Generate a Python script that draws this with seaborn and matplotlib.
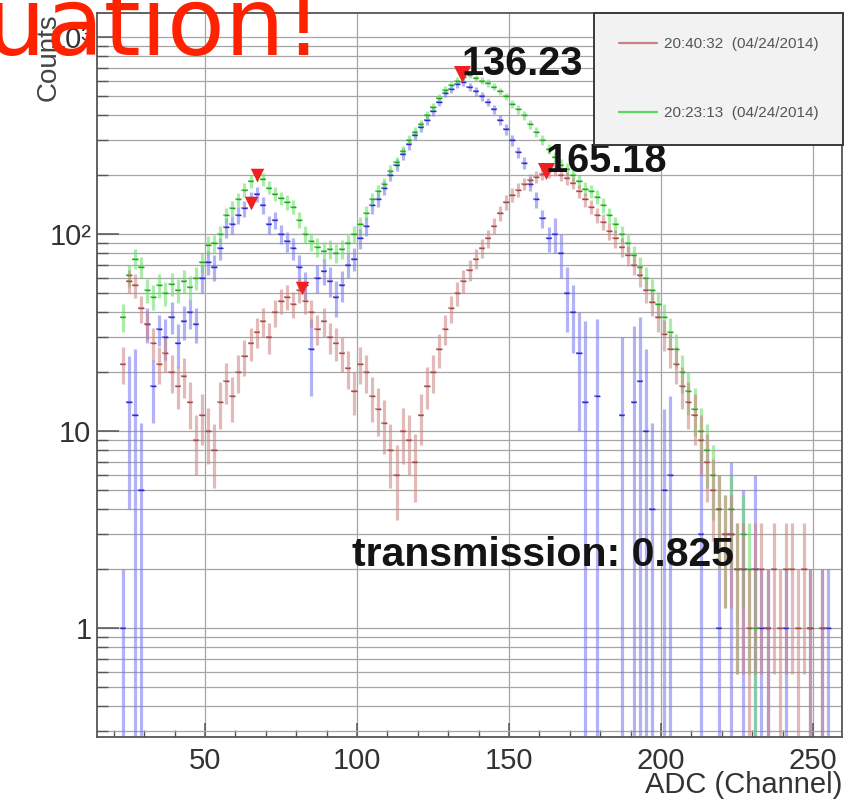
import numpy as np
import pandas as pd
import matplotlib
matplotlib.use("Agg")
import matplotlib.pyplot as plt
from matplotlib.lines import Line2D
from matplotlib.ticker import FixedLocator, FixedFormatter, LogLocator, MultipleLocator, NullFormatter
import seaborn as sns

# ---------------- data ----------------
channels = list(range(23, 261, 2))          # bin centres, 2 ADC channels per bin

green_counts = [38, 62, 75, 68, 52, 48, 55, 50, 56, 52,
                58, 54, 60, 72, 88, 90, 100, 125, 135, 150,
                168, 185, 200, 190, 172, 160, 152, 145, 138, 118,
                100, 92, 86, 82, 84, 80, 84, 90, 100, 112,
                128, 150, 165, 180, 210, 232, 265, 300, 330, 360,
                400, 440, 490, 540, 570, 600, 630, 645, 620, 600,
                585, 560, 530, 500, 460, 430, 400, 360, 330, 300,
                270, 245, 225, 215, 200, 185, 170, 165, 155, 140,
                125, 112, 100, 90, 78, 68, 60, 52, 44, 38,
                32, 26, 20, 16, 13, 10, 8, 6, 4, 3,
                4, 2, 3, 2, 1, 0, 0, 0, 0, 0,
                0, 0, 0, 0, 0, 0, 0, 0, 0]

brown_counts = [22, 58, 55, 42, 35, 28, 22, 25, 20, 17,
                19, 14, 9, 12, 10, 8, 14, 18, 15, 20,
                24, 28, 32, 36, 30, 40, 46, 48, 44, 52,
                46, 40, 33, 36, 30, 28, 25, 21, 16, 22,
                20, 15, 13, 11, 8, 6, 10, 9, 7, 12,
                17, 20, 26, 33, 42, 50, 58, 66, 75, 85,
                95, 110, 128, 145, 158, 168, 180, 188, 196, 202,
                208, 212, 200, 192, 182, 165, 150, 138, 125, 115,
                104, 95, 86, 78, 70, 62, 52, 45, 38, 31,
                26, 22, 17, 14, 12, 9, 7, 5, 4, 3,
                3, 2, 2, 1, 2, 2, 1, 2, 1, 2,
                2, 1, 2, 1, 0, 1, 0, 0, 0]

blue_counts = [1, 14, 12, 5, 35, 17, 33, 30, 38, 28,
               36, 40, 35, 60, 72, 68, 85, 108, 112, 125,
               135, 150, 160, 140, 112, 118, 100, 92, 85, 68,
               55, 26, 60, 65, 58, 48, 55, 70, 75, 95,
               110, 140, 150, 172, 200, 225, 255, 285, 320, 350,
               380, 420, 470, 520, 545, 575, 590, 560, 530, 500,
               470, 430, 380, 340, 300, 260, 230, 180, 150, 120,
               95, 100, 80, 50, 40, 25, 14, 0, 15, 0,
               0, 0, 12, 0, 14, 18, 10, 4, 0, 5,
               6, 0, 0, 0, 0, 3, 0, 0, 1, 0,
               3, 0, 2, 0, 2, 1, 1, 0, 0, 1,
               0, 0, 0, 1, 0, 1, 1, 0, 0]

blue_err = [1, 10, 14, 6, 7, 6, 6, 7, 7, 7,
            7, 7, 7, 10, 10, 10, 11, 12, 12, 13,
            13, 14, 14, 14, 12, 12, 11, 11, 11, 10,
            9, 11, 10, 10, 10, 10, 10, 10, 10, 11,
            12, 13, 13, 14, 15, 16, 17, 18, 19, 20,
            21, 22, 23, 24, 25, 26, 26, 25, 25, 24,
            23, 22, 21, 20, 19, 17, 16, 15, 14, 13,
            14, 20, 20, 18, 15, 15, 22, 0, 22, 0,
            0, 0, 18, 0, 20, 20, 16, 7, 0, 8,
            9, 0, 0, 0, 0, 5, 0, 0, 1, 0,
            4, 0, 3, 0, 4, 1, 1, 0, 0, 1,
            0, 0, 0, 1, 0, 1, 1, 0, 0]

legend_labels = ["20:40:32  (04/24/2014)", "20:23:13  (04/24/2014)"]
peak_labels = ["136.23", "165.18"]
peak_label_x = [134.5, 162.0]
peak_label_y = [730, 235]
marker_x = [134.6, 162.3, 67.0, 65.0, 81.8]
marker_y = [650, 209, 199, 144, 53]
transmission = 0.825

# ---------------- tidy table ----------------
frames = []
for name, cnt, err in [("blue", blue_counts, blue_err),
                       ("green", green_counts, list(np.sqrt(green_counts))),
                       ("brown", brown_counts, list(np.sqrt(brown_counts)))]:
    frames.append(pd.DataFrame({"series": name, "ch": channels,
                                "counts": cnt, "err": err}))
df = pd.concat(frames, ignore_index=True)
df = df[df["counts"] > 0]

light = {"blue": "#7474ee", "green": "#66dd66", "brown": "#cc8282"}
dark = {"blue": "#2b2bc8", "green": "#22a322", "brown": "#a04a4a"}

# ---------------- figure ----------------
sns.set_theme(style="white")
plt.rcParams["font.family"] = ["Liberation Sans", "DejaVu Sans"]

fig = plt.figure(figsize=(8.48, 8.01), dpi=100)
ax = fig.add_axes([97 / 848, 64 / 801, 745 / 848, 724 / 801])
ax.set_yscale("log")

for name in ["blue", "green", "brown"]:
    sub = df[df["series"] == name]
    lo = np.clip(sub["counts"] - sub["err"], 1e-3, None)
    hi = sub["counts"] + sub["err"]
    ax.vlines(sub["ch"], lo, hi, colors=light[name], lw=2.3, alpha=0.55, zorder=2)
    ax.hlines(sub["counts"], sub["ch"] - 1, sub["ch"] + 1, colors=light[name],
              lw=1.3, alpha=0.8, zorder=2)

sns.scatterplot(data=df, x="ch", y="counts", hue="series", palette=dark,
                marker="_", s=14, linewidth=1.0, legend=False, ax=ax, zorder=3)

# peak markers
ax.scatter(marker_x[:2], marker_y[:2], marker="v", s=150, color="#f02020",
           zorder=5, linewidths=0)
ax.scatter(marker_x[2:], marker_y[2:], marker="v", s=95, color="#f02020",
           zorder=5, linewidths=0)

for lab, lx, ly in zip(peak_labels, peak_label_x, peak_label_y):
    ax.text(lx, ly, lab, fontsize=28.5, fontweight="bold", color="#141414",
            ha="left", va="center", zorder=6)
ax.text(98.4, 2.35, f"transmission: {transmission:.3f}", fontsize=29.5,
        fontweight="bold", color="#141414", ha="left", va="center", zorder=6)

# axes styling (ROOT-like)
ax.set_xlim(14.5, 259.5)
ax.set_ylim(0.28, 1325)
ax.xaxis.set_major_locator(FixedLocator([50, 100, 150, 200, 250]))
ax.xaxis.set_minor_locator(MultipleLocator(10))
ax.yaxis.set_major_locator(FixedLocator([1, 10, 100, 1000]))
ax.yaxis.set_major_formatter(FixedFormatter(["1", "10", "10\u00b2", "10\u00b3"]))
ax.yaxis.set_minor_locator(LogLocator(base=10, subs=range(2, 10)))
ax.yaxis.set_minor_formatter(NullFormatter())

ax.grid(which="both", axis="y", color="#a6a6a6", lw=0.9)
ax.grid(which="major", axis="x", color="#a6a6a6", lw=0.9)
ax.set_axisbelow(True)

ax.tick_params(axis="x", which="major", direction="in", length=10, width=1.1,
               color="#555555", labelsize=21, labelcolor="#333333", pad=7)
ax.tick_params(axis="x", which="minor", direction="in", length=5, width=1.0,
               color="#555555")
ax.tick_params(axis="y", which="major", direction="in", length=16, width=1.1,
               color="#555555", labelsize=21, labelcolor="#333333", pad=4)
ax.tick_params(axis="y", which="minor", direction="in", length=8, width=1.0,
               color="#555555")
ax.tick_params(left=True, bottom=True, right=False, top=False)
ax.tick_params(which="minor", left=True, bottom=True, right=False, top=False)
for sp in ax.spines.values():
    sp.set_visible(True)
    sp.set_color("#555555")
    sp.set_linewidth(1.3)

ax.set_xlabel("ADC (Channel)", loc="right", fontsize=21, color="#333333", labelpad=-3)
ax.set_ylabel("Counts", loc="top", fontsize=20, color="#444444", labelpad=-9)

# legend
handles = [Line2D([], [], color="#c98080", lw=1.6),
           Line2D([], [], color="#5ad85a", lw=1.6)]
leg = ax.legend(handles, legend_labels, loc="upper right",
                bbox_to_anchor=(843 / 848, 1 - 13 / 801),
                bbox_transform=fig.transFigure, borderaxespad=0,
                fontsize=11, labelcolor="#555555", frameon=True, fancybox=False,
                borderpad=1.6, labelspacing=3.6, handlelength=2.5,
                handletextpad=0.45)
leg.get_frame().set_facecolor("#f2f2f2")
leg.get_frame().set_edgecolor("#3a3a3a")
leg.get_frame().set_linewidth(1.4)
leg.get_frame().set_alpha(1)
leg.set_zorder(7)

# overlay title (cut off at the left, as in the reference)
fig.text(-14 / 848, 1 - 55 / 801, "uation!", ha="left", va="baseline",
         fontsize=68, color="#ff2200", family="DejaVu Sans", zorder=10)

fig.savefig("out.png", dpi=100)
